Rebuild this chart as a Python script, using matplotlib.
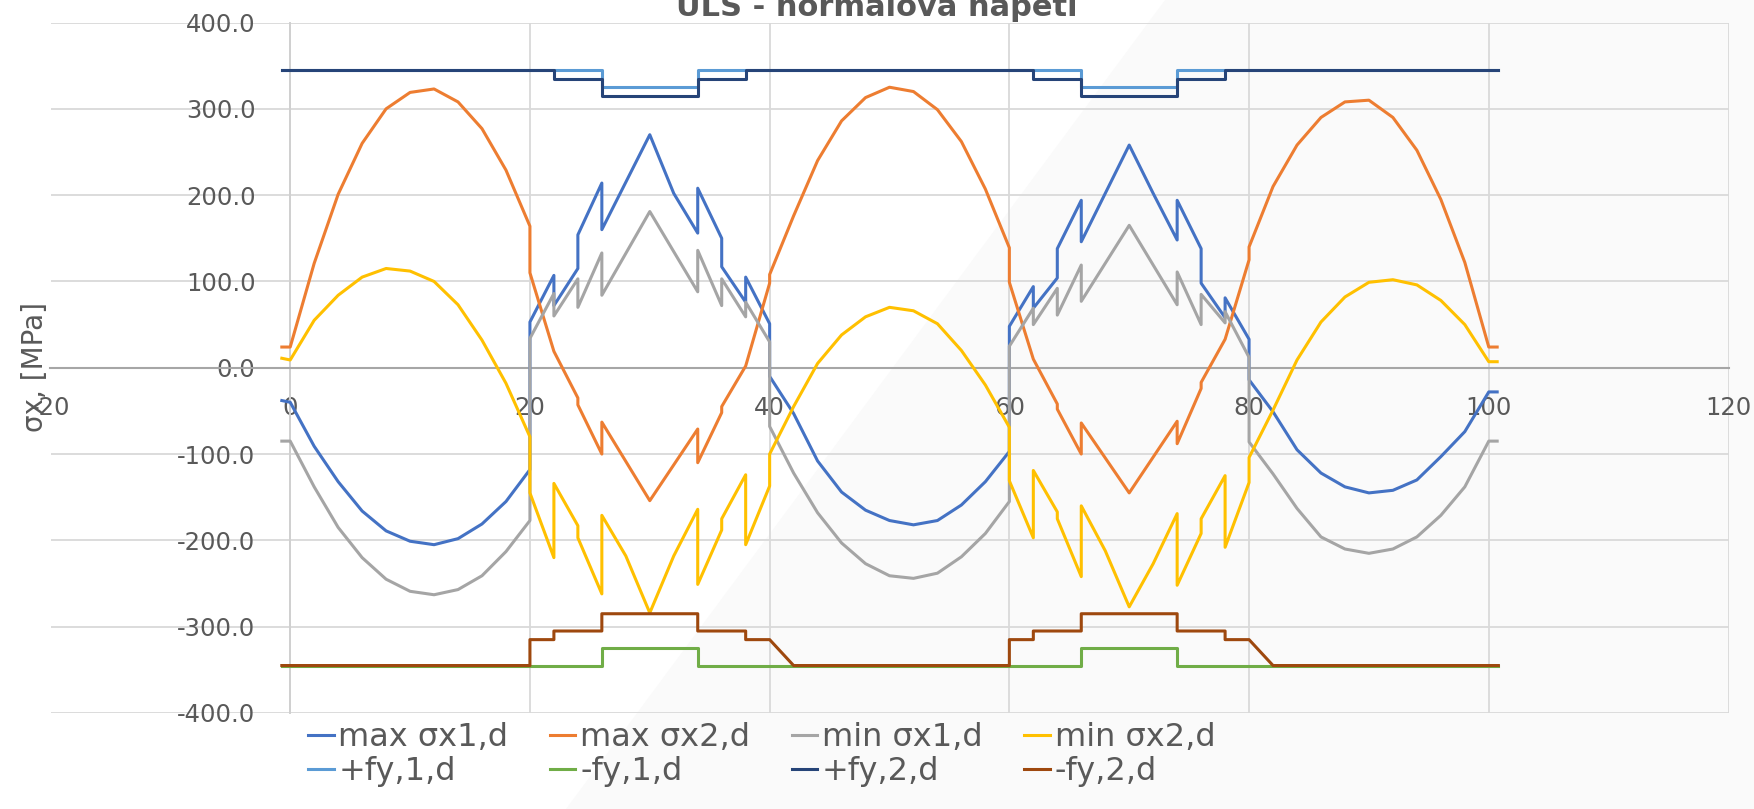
import matplotlib
matplotlib.use("Agg")
import matplotlib.pyplot as plt
from matplotlib.patches import Polygon

plt.rcParams['font.family'] = ['DejaVu Sans']
plt.rcParams['axes.unicode_minus'] = False

# --- data ---
x_max1 = [-0.7, 0, 2, 4, 6, 8, 10, 12, 14, 16, 18, 20,
          20, 22, 22, 24, 24, 26, 26, 30, 32, 34, 34, 36, 36, 38, 38, 40, 40,
          42, 44, 46, 48, 50, 52, 54, 56, 58, 60,
          60, 62, 62, 64, 64, 66, 66, 70, 72, 74, 74, 76, 76, 78, 78, 80, 80,
          82, 84, 86, 88, 90, 92, 94, 96, 98, 100, 100.7]
y_max1 = [-38, -40, -91, -132, -166, -189, -201, -205, -198, -181, -155, -118,
          53, 107, 72, 115, 154, 214, 160, 270, 202, 156, 208, 150, 117, 76, 105, 51, -10,
          -53, -108, -144, -165, -177, -182, -177, -159, -132, -97,
          48, 94, 69, 104, 138, 194, 146, 258, 202, 148, 194, 138, 98, 58, 81, 33, -14,
          -51, -95, -122, -138, -145, -142, -130, -103, -74, -28, -28]

x_max2 = [-0.7, 0, 2, 4, 6, 8, 10, 12, 14, 16, 18, 20,
          20, 22, 24, 24, 26, 26, 30, 34, 34, 36, 36, 38, 40, 40,
          42, 44, 46, 48, 50, 52, 54, 56, 58, 60,
          60, 62, 64, 64, 66, 66, 70, 74, 74, 76, 76, 78, 80, 80,
          82, 84, 86, 88, 90, 92, 94, 96, 98, 100, 100.7]
y_max2 = [24, 24, 121, 201, 260, 300, 319, 323, 308, 277, 229, 164,
          110, 19, -35, -43, -100, -63, -154, -71, -110, -52, -45, 2, 98, 108,
          176, 240, 286, 313, 325, 320, 299, 262, 207, 139,
          99, 10, -42, -48, -100, -64, -145, -62, -88, -24, -17, 33, 125, 140,
          210, 258, 290, 308, 310, 290, 252, 195, 122, 24, 24]

x_min1 = [-0.7, 0, 2, 4, 6, 8, 10, 12, 14, 16, 18, 20,
          20, 22, 22, 24, 24, 26, 26, 30, 34, 34, 36, 36, 38, 38, 40, 40,
          42, 44, 46, 48, 50, 52, 54, 56, 58, 60,
          60, 62, 62, 64, 64, 66, 66, 70, 74, 74, 76, 76, 78, 78, 80, 80,
          82, 84, 86, 88, 90, 92, 94, 96, 98, 100, 100.7]
y_min1 = [-85, -85, -138, -185, -220, -245, -259, -263, -257, -241, -213, -177,
          34, 86, 60, 103, 70, 133, 84, 181, 88, 136, 72, 103, 59, 76, 30, -68,
          -122, -168, -203, -227, -241, -244, -238, -219, -192, -155,
          25, 69, 50, 92, 61, 119, 77, 165, 73, 111, 50, 85, 52, 65, 12, -86,
          -123, -163, -196, -210, -215, -210, -196, -171, -138, -85, -85]

x_min2 = [-0.7, 0, 2, 4, 6, 8, 10, 12, 14, 16, 18, 20,
          20, 22, 22, 24, 24, 26, 26, 28, 30, 32, 34, 34, 36, 36, 38, 38, 40, 40,
          42, 44, 46, 48, 50, 52, 54, 56, 58, 60,
          60, 62, 62, 64, 64, 66, 66, 68, 70, 72, 74, 74, 76, 76, 78, 78, 80, 80,
          82, 84, 86, 88, 90, 92, 94, 96, 98, 100, 100.7]
y_min2 = [11, 9, 55, 84, 105, 115, 112, 100, 73, 32, -18, -80,
          -145, -220, -134, -183, -197, -262, -171, -218, -284, -218, -164, -251,
          -188, -175, -124, -205, -137, -100,
          -45, 5, 38, 59, 70, 66, 51, 20, -20, -69,
          -131, -197, -119, -167, -175, -242, -160, -212, -277, -227, -169, -252,
          -192, -175, -125, -208, -133, -104,
          -49, 9, 53, 82, 99, 102, 96, 78, 50, 7, 7]

x_fy1 = [-0.7, 26, 26, 34, 34, 66, 66, 74, 74, 100.8]
y_pfy1 = [345, 345, 325, 325, 345, 345, 325, 325, 345, 345]
y_nfy1 = [-345, -345, -325, -325, -345, -345, -325, -325, -345, -345]

x_pfy2 = [-0.7, 22, 22, 26, 26, 34, 34, 38, 38, 62, 62, 66, 66, 74, 74, 78, 78, 100.8]
y_pfy2 = [345, 345, 335, 335, 315, 315, 335, 335, 345, 345, 335, 335, 315, 315, 335, 335, 345, 345]

x_nfy2 = [-0.7, 20, 20, 22, 22, 26, 26, 34, 34, 38, 38, 40, 42,
          60, 60, 62, 62, 66, 66, 74, 74, 78, 78, 80, 82, 100.8]
y_nfy2 = [-345, -345, -315, -315, -305, -305, -285, -285, -305, -305, -315, -315, -345,
          -345, -315, -315, -305, -305, -285, -285, -305, -305, -315, -315, -345, -345]

labels = ['max σx1,d', 'max σx2,d', 'min σx1,d', 'min σx2,d',
          '+fy,1,d', '-fy,1,d', '+fy,2,d', '-fy,2,d']
colors = ['#4472C4', '#ED7D31', '#A5A5A5', '#FFC000',
          '#5B9BD5', '#70AD47', '#264478', '#9E480E']

x_ticks = list(range(-20, 121, 20))
y_ticks = list(range(-400, 401, 100))

TXT = '#595959'

fig = plt.figure(figsize=(17.54, 8.09), dpi=100)

# faint diagonal shading of the background (screenshot artefact), kept behind the axes
bg = fig.add_axes([0, 0, 1, 1], zorder=-10)
bg.set_axis_off()
bg.set_xlim(0, 1)
bg.set_ylim(0, 1)
bg.add_patch(Polygon([(566 / 1754, 0), (1165 / 1754, 1), (1, 1), (1, 0)],
                     closed=True, facecolor='#FAFAFA', edgecolor='none'))

ax = fig.add_axes([50.5 / 1754, 96 / 809, 1678 / 1754, 690.5 / 809])
ax.set_facecolor('none')

series = [(x_max1, y_max1), (x_max2, y_max2), (x_min1, y_min1), (x_min2, y_min2),
          (x_fy1, y_pfy1), (x_fy1, y_nfy1), (x_pfy2, y_pfy2), (x_nfy2, y_nfy2)]
handles = []
for (xs, ys), lab, c in zip(series, labels, colors):
    h, = ax.plot(xs, ys, color=c, lw=2.2, label=lab, zorder=3,
                 solid_joinstyle='round')
    handles.append(h)

ax.set_xlim(-20, 120)
ax.set_ylim(-400, 400)
ax.set_xticks(x_ticks)
ax.set_yticks(y_ticks)
ax.set_xticklabels([str(v) for v in x_ticks])
ax.set_yticklabels([f'{v:.1f}' for v in y_ticks])
ax.grid(True, color='#D9D9D9', lw=1.3, zorder=1)
ax.set_axisbelow(True)

for s in ['top', 'right']:
    ax.spines[s].set_visible(False)
ax.spines['bottom'].set_position(('data', 0))
ax.spines['bottom'].set_color('#A6A6A6')
ax.spines['bottom'].set_linewidth(1.5)
ax.spines['left'].set_position(('data', 0))
ax.spines['left'].set_color('#D0D0D0')
ax.spines['left'].set_linewidth(1.4)

ax.tick_params(axis='both', length=0, labelsize=17.5, labelcolor=TXT)
ax.tick_params(axis='y', pad=25)
ax.tick_params(axis='x', pad=20)

fig.text(877 / 1754, 1 - 15.6 / 809, 'ULS - normálová napětí', ha='center',
         va='baseline', fontsize=22, fontweight='bold', color=TXT)

fig.text(43 / 1754, 1 - 432 / 809, 'σx, [MPa]', rotation=90,
         rotation_mode='anchor', ha='left', va='baseline', fontsize=20, color=TXT)

order = [0, 4, 1, 5, 2, 6, 3, 7]
fig.legend([handles[i] for i in order], [labels[i] for i in order],
           loc='upper left', bbox_to_anchor=(308 / 1754, 1 - 722 / 809),
           ncol=4, frameon=False, fontsize=23, labelcolor=TXT,
           handlelength=0.8, handletextpad=0.15, columnspacing=1.3,
           labelspacing=0.1, borderpad=0, borderaxespad=0)

fig.savefig('out.png', dpi=100, facecolor='white')
